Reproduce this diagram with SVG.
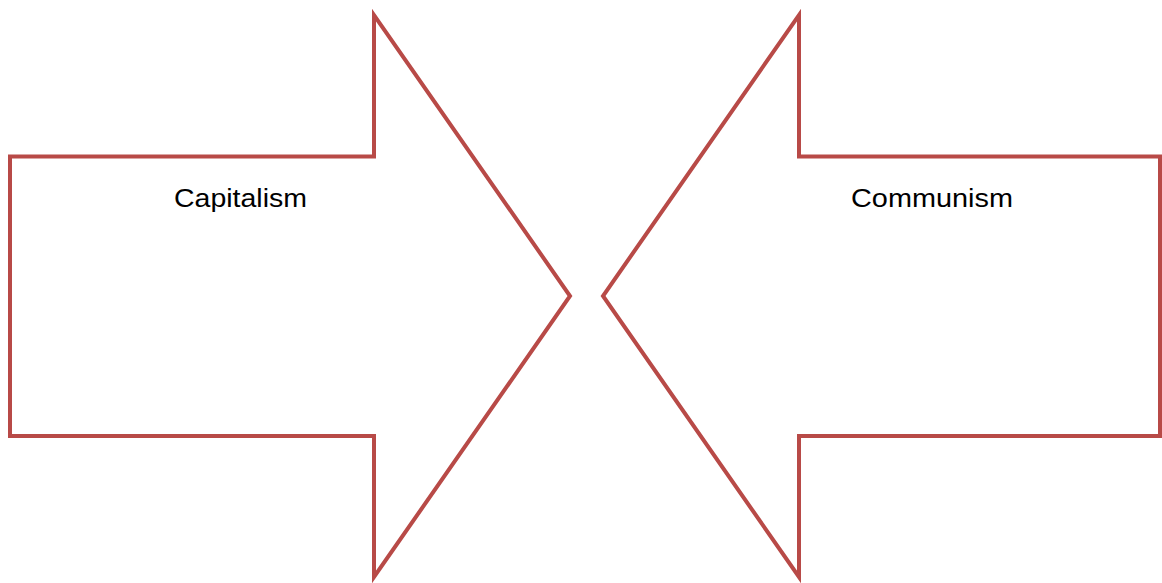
<svg xmlns="http://www.w3.org/2000/svg" width="1162" height="583" viewBox="0 0 1162 583">
<style>
.arrow{fill:#FFFFFF;stroke:#B84A47;stroke-width:4;stroke-linejoin:miter;stroke-miterlimit:10}
.lbl{font-family:"Liberation Sans",Arial,sans-serif;font-size:25px;fill:#000000}
</style>
<rect width="1162" height="583" fill="#FFFFFF"/>
<g id="capitalism">
<polygon class="arrow" points="10,156.5 374,156.5 374,15 570,296 374,577 374,436 10,436"/>
<text class="lbl" x="174" y="207" textLength="133" lengthAdjust="spacingAndGlyphs">Capitalism</text>
</g>
<g id="communism">
<polygon class="arrow" points="1160,156.5 799,156.5 799,15 603,296 799,577 799,436 1160,436"/>
<text class="lbl" x="851" y="207" textLength="162" lengthAdjust="spacingAndGlyphs">Communism</text>
</g>
<g id="connectors"></g>
</svg>
